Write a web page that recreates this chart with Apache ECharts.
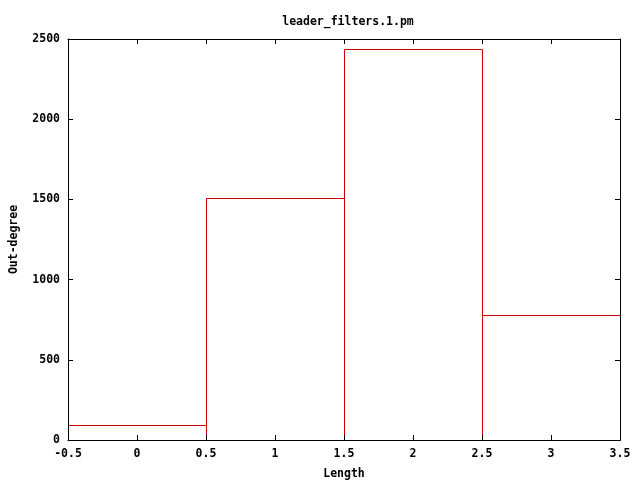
<!DOCTYPE html>
<html>
<head>
<meta charset="utf-8">
<script src="https://cdn.jsdelivr.net/npm/echarts@6/dist/echarts.min.js"></script>
<style>html,body{margin:0;padding:0;background:#fff}#c{width:640px;height:480px}</style>
</head>
<body>
<div id="c"></div>
<script>
var categories = [0, 1, 2, 3];
var values = [93, 1507, 2436, 779];
var xTicks = [-0.5, 0, 0.5, 1, 1.5, 2, 2.5, 3, 3.5];
var yTicks = [0, 500, 1000, 1500, 2000, 2500];

var FONT = 'DejaVu Sans Mono';
var txt = {color: '#000', fontFamily: FONT, fontWeight: 'bold', fontSize: 11.5};
var chart = echarts.init(document.getElementById('c'), null, {renderer: 'canvas'});
var data = categories.map(function (c, i) { return [c, values[i]]; });

function axisCommon() {
  return {
    axisLine: {show: true, onZero: false, lineStyle: {color: '#000', width: 1}},
    axisTick: {show: true, inside: true, length: 5, lineStyle: {color: '#000'}},
    splitLine: {show: false},
    z: 5
  };
}

chart.setOption({
  animation: false,
  backgroundColor: '#fff',
  title: {text: 'leader_filters.1.pm', left: 343, top: 11, textAlign: 'center',
    textStyle: Object.assign({}, txt)},
  grid: {left: 68, right: 20, top: 39, bottom: 40, containLabel: false, outerBoundsMode: 'none'},
  xAxis: [
    Object.assign({type: 'value', min: -0.5, max: 3.5, interval: 0.5, position: 'bottom',
      name: 'Length', nameLocation: 'middle', nameGap: 28, nameTextStyle: Object.assign({}, txt),
      axisLabel: Object.assign({margin: 8, formatter: function (v) { return String(v); }}, txt)}, axisCommon()),
    Object.assign({type: 'value', min: -0.5, max: 3.5, interval: 0.5, position: 'top',
      axisLabel: {show: false}}, axisCommon())
  ],
  yAxis: [
    Object.assign({type: 'value', min: 0, max: 2500, interval: 500, position: 'left',
      name: 'Out-degree', nameLocation: 'middle', nameGap: 48, nameTextStyle: Object.assign({}, txt),
      axisLabel: Object.assign({margin: 8, formatter: function (v) { return String(v); }}, txt)}, axisCommon()),
    Object.assign({type: 'value', min: 0, max: 2500, interval: 500, position: 'right',
      axisLabel: {show: false}}, axisCommon())
  ],
  series: [{
    type: 'custom',
    xAxisIndex: 0,
    yAxisIndex: 0,
    data: data,
    z: 1,
    renderItem: function (params, api) {
      var x = api.value(0), v = api.value(1);
      var p1 = api.coord([x - 0.5, v]);
      var p2 = api.coord([x + 0.5, 0]);
      var x0 = Math.round(p1[0]), x1 = Math.round(p2[0]);
      var y0 = Math.round(p1[1]), y1 = Math.round(p2[1]);
      return {
        type: 'rect',
        shape: {x: x0 + 0.5, y: y0 + 0.5, width: x1 - x0, height: y1 - y0},
        style: {fill: null, stroke: '#cc0000', lineWidth: 1}
      };
    }
  }]
});
</script>
</body>
</html>
